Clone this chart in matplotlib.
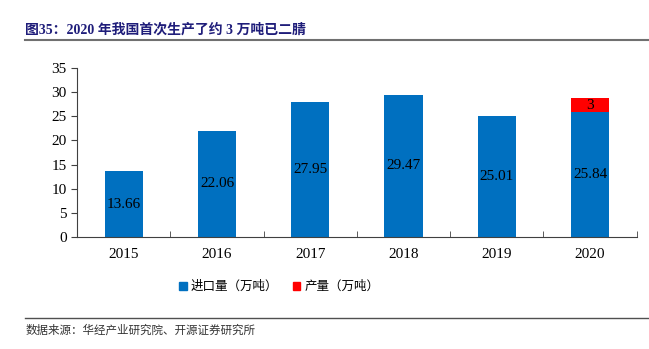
import numpy as np
import matplotlib.pyplot as plt
from matplotlib.patches import Rectangle
from matplotlib.lines import Line2D

years = ["2015", "2016", "2017", "2018", "2019", "2020"]
imports = [13.66, 22.06, 27.95, 29.47, 25.01, 25.84]
production = [0, 0, 0, 0, 0, 3]

blue = "#0070C0"
red = "#FF0000"
fonts = ["Liberation Serif", "Noto Sans CJK SC"]
plt.rcParams["font.family"] = fonts

fig = plt.figure(figsize=(6.49, 3.49), dpi=100)
ax = fig.add_axes([0.119, 0.321, 0.862, 0.484])

x = np.arange(len(years))
ax.bar(x, imports, width=0.41, color=blue, zorder=2)
ax.bar(x, production, width=0.41, bottom=imports, color=red, zorder=2)

for i in range(len(years)):
    ax.text(x[i], imports[i] / 2, f"{imports[i]:.2f}", ha="center", va="center",
            fontsize=11, color="black")
    if production[i] > 0:
        ax.text(x[i], imports[i] + production[i] / 2, f"{production[i]:g}",
                ha="center", va="center", fontsize=11, color="black")

ax.set_xlim(-0.5, len(years) - 0.5)
ax.set_ylim(0, 35)
ax.set_yticks(range(0, 36, 5))
ax.set_xticks(x)
ax.set_xticklabels(years)
ax.set_xticks(np.arange(-0.5, len(years)), minor=True)
ax.tick_params(axis="x", which="major", length=0, pad=8, labelsize=11)
ax.tick_params(axis="x", which="minor", direction="in", length=4, color="#404040")
ax.tick_params(axis="y", direction="out", length=4, labelsize=11, color="#404040")
for s in ["top", "right"]:
    ax.spines[s].set_visible(False)
for s in ["left", "bottom"]:
    ax.spines[s].set_color("#404040")

# title and footer
fig.text(0.039, 0.915, "图35：2020 年我国首次生产了约 3 万吨已二腈", fontsize=10,
         fontweight="bold", color="#1F1D7A", va="center", family=fonts)
fig.add_artist(Line2D([0.039, 1.0], [0.885, 0.885], color="#707070", lw=1.5))
fig.add_artist(Line2D([0.039, 1.0], [0.089, 0.089], color="#505050", lw=1.0))
fig.text(0.039, 0.052, "数据来源：华经产业研究院、开源证券研究所", fontsize=8.3,
         color="#333333", va="center", family=fonts)

handles = [Rectangle((0, 0), 1, 1, color=blue), Rectangle((0, 0), 1, 1, color=red)]
fig.legend(handles, ["进口量（万吨）", "产量（万吨）"], loc="center",
           bbox_to_anchor=(0.43, 0.178), ncol=2, frameon=False, fontsize=9,
           handlelength=0.6, handleheight=0.6, handletextpad=0.3, columnspacing=1.2)

fig.savefig("out.png", dpi=100)
